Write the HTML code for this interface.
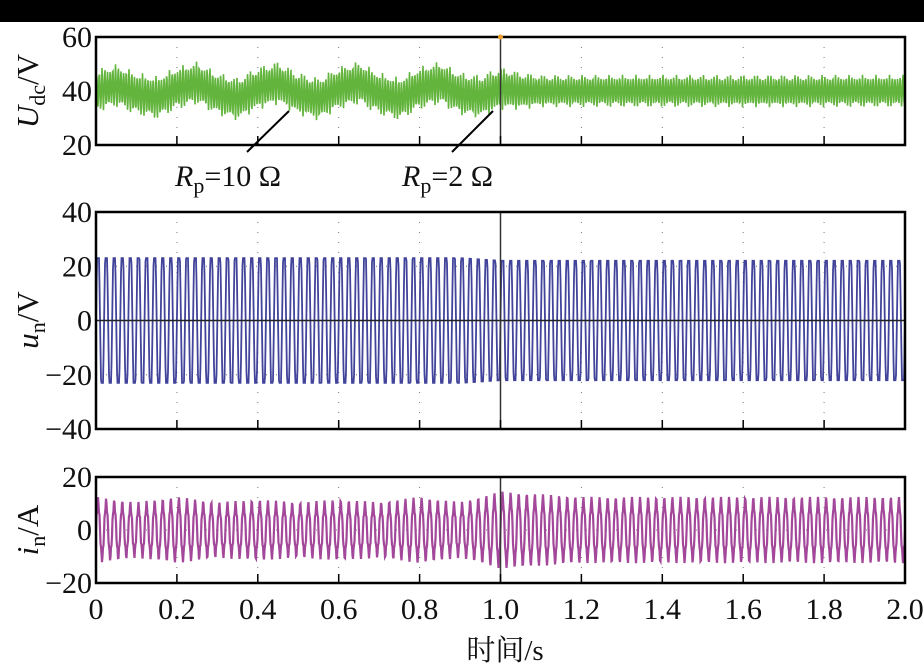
<!DOCTYPE html>
<html><head><meta charset="utf-8"><style>
html,body{margin:0;padding:0;background:#fff}
svg{display:block}
</style></head><body>
<svg id="c" width="924" height="665" viewBox="0 0 924 665" font-family="'Liberation Serif','Noto Serif CJK SC',serif">
<rect x="0" y="0" width="924" height="22" fill="#000"/>
</svg>
<script>
// ---- data ----
const xTicks=[0,0.2,0.4,0.6,0.8,1.0,1.2,1.4,1.6,1.8,2.0];
const xTickLabels=["0","0.2","0.4","0.6","0.8","1.0","1.2","1.4","1.6","1.8","2.0"];
const envTimes=[0,0.1,0.2,0.3,0.4,0.5,0.6,0.7,0.8,0.9,1.0,1.1,1.2,1.3,1.4,1.5,1.6,1.7,1.8,1.9,2.0];
const udcMeanTimes=[0,0.05,0.1,0.15,0.2,0.25,0.3,0.35,0.4,0.45,0.5,0.55,0.6,0.65,0.7,0.75,0.8,0.85,0.9,0.95,1.0,1.05,1.5,2.0];
const udcMean=[40,42,39,37.5,41,43,39,37,41,43,39,37,41,43,39,37,41,43,39,38,41,40,40,40];
const udcRipple=[8,8,8,8,8,8,8,8,8,8,8,6,6,6,6,6,6,6,6,6,6];
const unAmp=[23,23,23,23,23,23,23,23,23,23,22,22,22,22,22,22,22,22,22,22,22];
const inAmp=[11,9,11,9,10,9,10,9,11,9,13,12,11,11,11,11,11,11,11,11,11];
const udcTicks=[20,40,60], unTicks=[-40,-20,0,20,40], inTicks=[-20,0,20];
const FREQ=50;
// ---- layout ----
const svg=document.getElementById('c');const NS='http://www.w3.org/2000/svg';
const FONT="'Liberation Serif','Noto Serif CJK SC',serif";
const X0=96,X1=905;
const xs=t=>X0+(X1-X0)*t/2;
function el(tag,attrs,name,parent){const e=document.createElementNS(NS,tag);for(const k in attrs)e.setAttribute(k,attrs[k]);
if(tag==='text'){e.setAttribute('font-family',FONT);e.setAttribute('fill','#111');}


(parent||svg).appendChild(e);return e;}
function interp(ts,vs,t){for(let i=0;i<ts.length-1;i++){if(t<=ts[i+1]){const f=(t-ts[i])/(ts[i+1]-ts[i]);return vs[i]+f*(vs[i+1]-vs[i]);}}return vs[vs.length-1];}
const panels=[
 {name:'udc',top:37,bot:145,min:20,max:60,ticks:udcTicks,color:'#62b43c',grid:[40],w:1.6},
 {name:'un',top:212,bot:429,min:-40,max:40,ticks:unTicks,color:'#41449a',grid:[-20,20],w:1.8},
 {name:'in',top:477,bot:583,min:-20,max:20,ticks:inTicks,color:'#a3479a',grid:[0],w:2.2}
];
panels.forEach((p,pi)=>{
 const ys=v=>p.bot-(p.bot-p.top)*(v-p.min)/(p.max-p.min);
 const g=el('g',{},p.name+'-panel');
 xTicks.slice(1,-1).forEach(t=>{el('line',{x1:xs(t),x2:xs(t),y1:p.top,y2:p.bot,stroke:'#777','stroke-dasharray':'1,9','stroke-width':1},p.name+'-vgrid',g);});
 p.grid.forEach(v=>{el('line',{x1:X0,x2:X1,y1:ys(v),y2:ys(v),stroke:'#777','stroke-dasharray':'1,9'},p.name+'-hgrid',g);});
 let pts=[];
 for(let px=0;px<=(X1-X0)*2;px++){
  const t=px/((X1-X0)*2)*2;let v;
  if(p.name==='udc'){const m=interp(udcMeanTimes,udcMean,t),a=interp(envTimes,udcRipple,t);v=m+a*Math.sin(2*Math.PI*150*t)*((px%3===0)?1:0.75);}
  else if(p.name==='un'){const a=interp(envTimes,unAmp,t);const s=Math.sin(2*Math.PI*FREQ*t);v=a*Math.sign(s)*Math.min(1,Math.abs(s)*1.4);}
  else {const a=interp(envTimes,inAmp,t);v=a*Math.sin(2*Math.PI*FREQ*t)+1.5*Math.sin(2*Math.PI*250*t);}
  pts.push(xs(t).toFixed(2)+','+ys(v).toFixed(2));
 }
 el('polyline',{points:pts.join(' '),fill:'none',stroke:p.color,'stroke-width':p.w},p.name+'-series',g);
 if(p.name==='un')el('line',{x1:X0,x2:X1,y1:ys(0),y2:ys(0),stroke:'#222','stroke-width':1.5},'un-zero-line',g);
 el('line',{x1:xs(1),x2:xs(1),y1:p.top,y2:p.bot,stroke:'#333','stroke-width':1.5},p.name+'-cursor-line',g);
 xTicks.forEach(t=>{el('line',{x1:xs(t),x2:xs(t),y1:p.bot,y2:p.bot-9,stroke:'#000','stroke-width':1.5},p.name+'-xtick',g);});
 p.ticks.forEach(v=>{const tx=el('text',{x:X0-4,y:ys(v)+10,'text-anchor':'end','font-size':30},p.name+'-ytick-label',g);tx.textContent=(v<0?'\u2212'+(-v):v);});
 el('rect',{x:X0,y:p.top,width:X1-X0,height:p.bot-p.top,fill:'none',stroke:'#000','stroke-width':2.5},p.name+'-frame',g);
});
xTicks.forEach((t,i)=>{const tx=el('text',{x:xs(t),y:619,'text-anchor':'middle','font-size':30},'x-tick-label');tx.textContent=xTickLabels[i];});
const xt=el('text',{x:505,y:660,'text-anchor':'middle','font-size':29},'x-axis-title');xt.textContent='时间/s';
function ytitle(cx,cy,main,sub,unit,name){const tx=el('text',{x:0,y:0,'text-anchor':'middle','font-size':31,transform:`translate(${cx},${cy}) rotate(-90)`},name);
 tx.innerHTML=`<tspan font-style="italic">${main}</tspan><tspan font-size="22" dy="7">${sub}</tspan><tspan dy="-7">/${unit}</tspan>`;}
ytitle(38,91,'U','dc','V','udc-axis-title');
ytitle(38,320,'u','n','V','un-axis-title');
ytitle(38,530,'i','n','A','in-axis-title');
el('line',{x1:247,y1:152,x2:289,y2:111,stroke:'#000','stroke-width':2},'annotation-line-10');
el('line',{x1:452,y1:152,x2:493,y2:111,stroke:'#000','stroke-width':2},'annotation-line-2');
const a1=el('text',{x:175,y:186,'font-size':30},'annotation-rp10');a1.innerHTML='<tspan font-style="italic">R</tspan><tspan font-size="22" dy="7">p</tspan><tspan dy="-7">=10 Ω</tspan>';
const a2=el('text',{x:402,y:186,'font-size':30},'annotation-rp2');a2.innerHTML='<tspan font-style="italic">R</tspan><tspan font-size="22" dy="7">p</tspan><tspan dy="-7">=2 Ω</tspan>';
el('circle',{cx:xs(1),cy:37,r:2.5,fill:'#f0a030'},'cursor-marker');
</script>
</body></html>
